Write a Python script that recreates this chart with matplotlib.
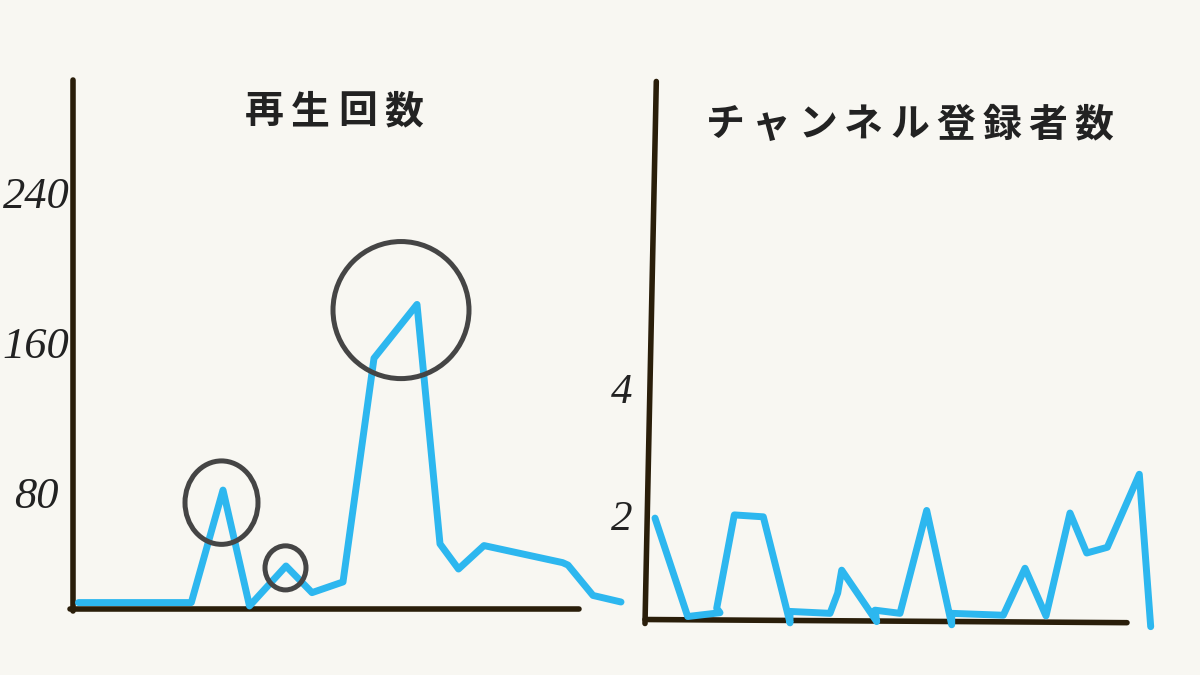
import matplotlib
matplotlib.use("Agg")
import matplotlib.pyplot as plt
from matplotlib.patches import Ellipse

# 再生回数 (left panel)
views_x = [0.55, 11.83, 15.0, 17.65, 21.3, 23.9, 27.0, 30.1, 34.4, 36.7, 38.55, 41.1, 48.96, 49.5, 52.0, 54.8]
views_y = [23.7, 23.7, 83.7, 21.9, 43.2, 29.0, 34.7, 154.0, 182.7, 55.0, 41.6, 54.1, 45.0, 43.7, 27.5, 24.0]
views_ticks = [80, 160, 240]
views_title = "再生回数"
# highlighted peaks: (x, y, width, height)
highlights = [(14.85, 77.0, 7.3, 44.5), (21.25, 42.2, 4.1, 23.5), (32.8, 179.7, 13.6, 73.1)]

# チャンネル登録者数 (right panel)
subs_x = [1.0, 4.27, 7.5, 7.17, 8.93, 11.83, 14.5, 14.5, 18.5, 19.27, 19.67, 23.17, 23.0, 25.5,
          28.17, 30.67, 30.67, 35.83, 38.0, 40.1, 42.5, 44.17, 46.23, 49.43, 50.57]
subs_y = [2.03, 0.48, 0.54, 0.61, 2.08, 2.05, 0.38, 0.56, 0.53, 0.85, 1.21, 0.40, 0.58, 0.53,
          2.15, 0.35, 0.53, 0.50, 1.24, 0.49, 2.11, 1.48, 1.57, 2.72, 0.32]
subs_ticks = [2, 4]
subs_title = "チャンネル登録者数"

bg = "#f8f7f2"
blue = "#2db7ef"
axis_col = "#2a1e0a"
text_col = "#222222"
circle_col = "#454545"

fig = plt.figure(figsize=(12, 6.75), dpi=100, facecolor=bg)

def hand_title(cx0, cy, text, step):
    # spaced-out title, one glyph at a time (figure pixel coords)
    for i, ch in enumerate(text):
        fig.text((cx0 + i * step) / 1200, 1 - cy / 675, ch, ha="center", va="center",
                 fontsize=28, fontweight="bold", color=text_col,
                 family=["Noto Sans CJK JP", "DejaVu Sans"])

# ---- left panel ----
ax1 = fig.add_axes([0, 0, 0.55, 1])
ax1.set_xlim(-7.3, 58.7)
ax1.set_ylim(-14.93, 345.07)
ax1.axis("off")
ax1.plot([0, 0], [302.4, 19.2], color=axis_col, lw=4, solid_capstyle="round")
ax1.plot([-0.3, 50.6], [20.3, 20.3], color=axis_col, lw=4, solid_capstyle="round")
ax1.plot(views_x, views_y, color=blue, lw=5, solid_joinstyle="round", solid_capstyle="round", zorder=3)
for x, y, w, h in highlights:
    ax1.add_patch(Ellipse((x, y), w, h, fill=False, ec=circle_col, lw=3.6, zorder=4))
for t in views_ticks:
    ax1.text(-3.7, t, str(t), ha="center", va="center", fontsize=32, style="italic",
             family="Liberation Serif", color=text_col)
hand_title(264, 112, views_title, 46.7)

# ---- right panel ----
ax2 = fig.add_axes([0.5, 0, 0.5, 1])
ax2.set_xlim(-4.5, 55.5)
ax2.set_ylim(-0.441, 10.189)
ax2.axis("off")
ax2.plot([1.13, 0], [8.906, 0.37], color=axis_col, lw=4, solid_capstyle="round")
ax2.plot([0, 48.2], [0.433, 0.383], color=axis_col, lw=4, solid_capstyle="round")
ax2.plot(subs_x, subs_y, color=blue, lw=5, solid_joinstyle="round", solid_capstyle="round", zorder=3)
for t in subs_ticks:
    ax2.text(-2.3, t, str(t), ha="center", va="center", fontsize=31, style="italic",
             family="Liberation Serif", color=text_col)
hand_title(725.7, 125, subs_title, 46)

fig.savefig("out.png", dpi=100, facecolor=bg)
